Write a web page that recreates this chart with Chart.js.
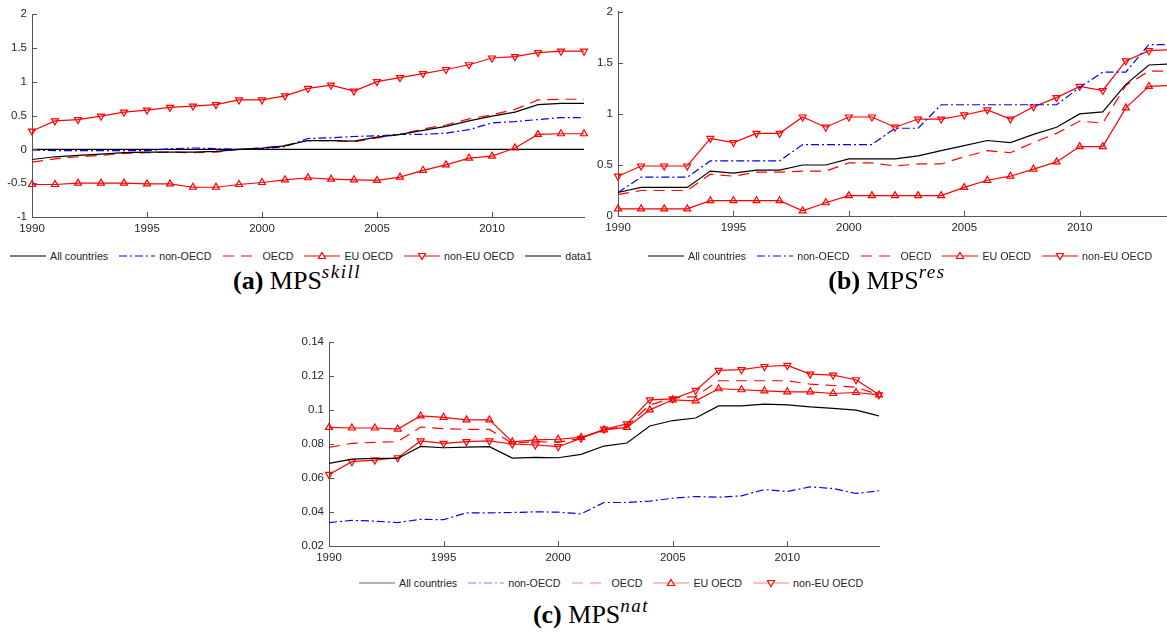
<!DOCTYPE html>
<html>
<head>
<meta charset="utf-8">
<script src="https://cdn.jsdelivr.net/npm/chart.js@4.4.1/dist/chart.umd.min.js"></script>
<style>
  html, body { margin: 0; padding: 0; background: #fff; }
  body { width: 1167px; height: 633px; position: relative; overflow: hidden; font-family: "Liberation Sans", Arial, sans-serif; }
  .panel { position: absolute; }
  .legend { position: absolute; display: flex; align-items: center; font-size: 10.7px; color: #262626; white-space: nowrap; height: 14px; }
  .legend svg { display: block; margin-right: 4px; }
  .legend span { margin-right: 11px; }
  .caption { position: absolute; width: 400px; text-align: center; font-family: "Liberation Serif", "Times New Roman", serif; font-size: 26px; line-height: 26px; color: #000; }
  .caption i { font-size: 19px; letter-spacing: 1.5px; position: relative; top: -11px; line-height: 0; }
</style>
</head>
<body>
<div class="panel" style="left:0;top:0;width:600px;height:240px"><canvas id="chartA"></canvas></div>
<div class="panel" style="left:585px;top:0;width:600px;height:240px"><canvas id="chartB"></canvas></div>
<div class="panel" style="left:280px;top:330px;width:620px;height:240px"><canvas id="chartC"></canvas></div>

<div class="legend" id="legendA" style="left:10px;top:249px"></div>
<div class="legend" id="legendB" style="left:648px;top:249px"></div>
<div class="legend" id="legendC" style="left:359px;top:576px"></div>

<div class="caption" style="left:97px;top:268px"><b>(a)</b> MPS<i>skill</i></div>
<div class="caption" style="left:687px;top:268px"><b>(b)</b> MPS<i>res</i></div>
<div class="caption" style="left:391px;top:602px"><b>(c)</b> MPS<i>nat</i></div>

<script>
// DATA
const years = [1990, 1991, 1992, 1993, 1994, 1995, 1996, 1997, 1998, 1999, 2000, 2001, 2002,
  2003, 2004, 2005, 2006, 2007, 2008, 2009, 2010, 2011, 2012, 2013, 2014];
const seriesNames = ["All countries", "non-OECD", "OECD", "EU OECD", "non-EU OECD"];
const xTicks = [1990, 1995, 2000, 2005, 2010];

// (a) MPS skill
const skillAll = [-0.15, -0.11, -0.09, -0.07, -0.05, -0.04, -0.04, -0.04, -0.03, 0.00, 0.02, 0.05, 0.13,
  0.13, 0.12, 0.18, 0.22, 0.28, 0.34, 0.42, 0.49, 0.55, 0.66, 0.68, 0.68];
const skillNonOecd = [-0.01, -0.02, -0.02, -0.02, -0.02, -0.02, 0.01, 0.02, 0.01, 0.00, 0.01, 0.04, 0.16,
  0.17, 0.19, 0.20, 0.22, 0.22, 0.24, 0.29, 0.39, 0.41, 0.44, 0.47, 0.47];
const skillOecd = [-0.19, -0.14, -0.11, -0.09, -0.06, -0.05, -0.04, -0.05, -0.04, 0.00, 0.02, 0.06, 0.13,
  0.13, 0.11, 0.17, 0.22, 0.30, 0.36, 0.45, 0.51, 0.59, 0.73, 0.74, 0.74];
const skillEu = [-0.52, -0.52, -0.50, -0.50, -0.50, -0.51, -0.51, -0.56, -0.56, -0.52, -0.49, -0.45, -0.42,
  -0.44, -0.45, -0.46, -0.41, -0.31, -0.23, -0.13, -0.10, 0.02, 0.22, 0.23, 0.23];
const skillNonEu = [0.27, 0.42, 0.44, 0.49, 0.55, 0.58, 0.62, 0.64, 0.66, 0.73, 0.73, 0.79, 0.90,
  0.95, 0.86, 1.00, 1.06, 1.12, 1.18, 1.25, 1.35, 1.37, 1.43, 1.45, 1.45];
const skillData1 = [0, 0, 0, 0, 0, 0, 0, 0, 0, 0, 0, 0, 0, 0, 0, 0, 0, 0, 0, 0, 0, 0, 0, 0, 0];
const skillTicks = [-1, 2, 0.5];

// (b) MPS res
const resAll = [0.23, 0.28, 0.28, 0.28, 0.44, 0.42, 0.45, 0.45, 0.50, 0.50, 0.56, 0.56, 0.56,
  0.59, 0.64, 0.69, 0.74, 0.72, 0.80, 0.87, 1.00, 1.02, 1.29, 1.48, 1.49];
const resNonOecd = [0.23, 0.38, 0.38, 0.38, 0.54, 0.54, 0.54, 0.54, 0.70, 0.70, 0.70, 0.70, 0.86,
  0.86, 1.09, 1.09, 1.09, 1.09, 1.09, 1.09, 1.26, 1.41, 1.41, 1.68, 1.68];
const resOecd = [0.21, 0.25, 0.25, 0.25, 0.41, 0.39, 0.43, 0.43, 0.44, 0.44, 0.52, 0.52, 0.49,
  0.51, 0.51, 0.58, 0.64, 0.62, 0.72, 0.81, 0.93, 0.91, 1.28, 1.42, 1.42];
const resEu = [0.07, 0.07, 0.07, 0.07, 0.15, 0.15, 0.15, 0.15, 0.05, 0.13, 0.20, 0.20, 0.20,
  0.20, 0.20, 0.28, 0.35, 0.39, 0.46, 0.53, 0.68, 0.68, 1.06, 1.27, 1.28];
const resNonEu = [0.39, 0.49, 0.49, 0.49, 0.76, 0.72, 0.81, 0.81, 0.97, 0.87, 0.97, 0.97, 0.87,
  0.95, 0.95, 0.99, 1.04, 0.95, 1.07, 1.16, 1.27, 1.23, 1.52, 1.62, 1.63];
const resTicks = [0, 2, 0.5];

// (c) MPS nat
const natAll = [0.0686, 0.0711, 0.0715, 0.0715, 0.0786, 0.0778, 0.0782, 0.0784, 0.0717, 0.0721, 0.0719, 0.0739, 0.0788,
  0.0806, 0.0906, 0.0938, 0.0953, 0.1024, 0.1024, 0.1034, 0.1030, 0.1018, 0.1010, 0.0999, 0.0965];
const natNonOecd = [0.0338, 0.0351, 0.0346, 0.0338, 0.0357, 0.0355, 0.0395, 0.0395, 0.0397, 0.0401, 0.0399, 0.0389, 0.0456,
  0.0456, 0.0464, 0.0481, 0.0491, 0.0487, 0.0495, 0.0532, 0.0521, 0.0548, 0.0538, 0.0509, 0.0525];
const natOecd = [0.0780, 0.0804, 0.0810, 0.0814, 0.0900, 0.0890, 0.0886, 0.0886, 0.0804, 0.0814, 0.0810, 0.0833, 0.0883,
  0.0906, 0.1030, 0.1070, 0.1079, 0.1172, 0.1172, 0.1172, 0.1172, 0.1152, 0.1144, 0.1134, 0.1089];
const natEu = [0.0898, 0.0894, 0.0894, 0.0888, 0.0965, 0.0957, 0.0942, 0.0942, 0.0812, 0.0824, 0.0828, 0.0839, 0.0883,
  0.0898, 0.1001, 0.1060, 0.1054, 0.1125, 0.1119, 0.1113, 0.1107, 0.1107, 0.1097, 0.1103, 0.1089];
const natNonEu = [0.0621, 0.0696, 0.0705, 0.0719, 0.0818, 0.0804, 0.0814, 0.0818, 0.0800, 0.0794, 0.0784, 0.0833, 0.0887,
  0.0918, 0.1060, 0.1066, 0.1115, 0.1233, 0.1237, 0.1256, 0.1262, 0.1211, 0.1205, 0.1178, 0.1089];
const natTicks = [0.02, 0.14, 0.02];

// STYLES
const lineStyles = {
  "All countries": { color: "#000000", dash: [], marker: null },
  "non-OECD": { color: "#0000ff", dash: [8, 3, 2, 3], marker: null },
  "OECD": { color: "#ff0000", dash: [11, 7], marker: null },
  "EU OECD": { color: "#ff0000", dash: [], marker: "up" },
  "non-EU OECD": { color: "#ff0000", dash: [], marker: "down" },
  "data1": { color: "#000000", dash: [], marker: null }
};
const axisColor = "#555555";
const textColor = "#262626";

function makeDataset(name, values) {
  const s = lineStyles[name];
  return {
    label: name,
    data: years.map((x, i) => ({ x: x, y: values[i] })),
    borderColor: s.color,
    borderWidth: 1.2,
    borderDash: s.dash,
    pointStyle: "triangle",
    pointRadius: s.marker ? 4 : 0,
    pointRotation: s.marker === "down" ? 180 : 0,
    pointBorderColor: s.color,
    pointBackgroundColor: "rgba(255,255,255,0)",
    pointBorderWidth: 1.2,
    tension: 0,
    clip: false
  };
}

// inward tick marks, like the original
const innerTicks = {
  id: "innerTicks",
  afterDraw(chart) {
    const { ctx, chartArea: a, scales: { x, y } } = chart;
    ctx.save();
    ctx.strokeStyle = axisColor;
    ctx.lineWidth = 1;
    ctx.beginPath();
    x.ticks.forEach(t => {
      const px = Math.round(x.getPixelForValue(t.value)) + 0.5;
      ctx.moveTo(px, a.bottom);
      ctx.lineTo(px, a.bottom - 5);
    });
    y.ticks.forEach(t => {
      const py = Math.round(y.getPixelForValue(t.value)) + 0.5;
      ctx.moveTo(a.left, py);
      ctx.lineTo(a.left + 5, py);
    });
    ctx.stroke();
    ctx.restore();
  }
};

function makeChart(id, datasets, yTicks, box) {
  return new Chart(document.getElementById(id), {
    type: "line",
    data: { datasets: datasets },
    options: {
      responsive: true,
      maintainAspectRatio: false,
      animation: false,
      layout: { padding: { left: 0, top: box.top, right: box.right, bottom: 0 } },
      plugins: { legend: { display: false }, tooltip: { enabled: false } },
      scales: {
        x: {
          type: "linear",
          min: years[0],
          max: years[years.length - 1],
          afterFit: s => { s.height = box.xHeight; },
          afterBuildTicks: s => { s.ticks = xTicks.map(v => ({ value: v })); },
          grid: { display: false, drawTicks: false },
          border: { display: true, color: axisColor, width: 1 },
          ticks: { padding: 5, color: textColor, font: { family: "Liberation Sans", size: 11.5 }, callback: v => String(v), maxRotation: 0 }
        },
        y: {
          type: "linear",
          min: yTicks[0],
          max: yTicks[1],
          afterFit: s => { s.width = box.yWidth; },
          grid: { display: false, drawTicks: false },
          border: { display: true, color: axisColor, width: 1 },
          ticks: { stepSize: yTicks[2], padding: 5, color: textColor, font: { family: "Liberation Sans", size: 11.5 }, callback: v => String(+(+v).toFixed(2)) }
        }
      }
    },
    plugins: [innerTicks]
  });
}

const chartA = makeChart("chartA", [
  makeDataset("All countries", skillAll),
  makeDataset("non-OECD", skillNonOecd),
  makeDataset("OECD", skillOecd),
  makeDataset("EU OECD", skillEu),
  makeDataset("non-EU OECD", skillNonEu),
  makeDataset("data1", skillData1)
], skillTicks, { top: 14, right: 16, xHeight: 23, yWidth: 32 });

const chartB = makeChart("chartB", [
  makeDataset("All countries", resAll),
  makeDataset("non-OECD", resNonOecd),
  makeDataset("OECD", resOecd),
  makeDataset("EU OECD", resEu),
  makeDataset("non-EU OECD", resNonEu)
], resTicks, { top: 11, right: 13, xHeight: 24, yWidth: 33 });

const chartC = makeChart("chartC", [
  makeDataset("All countries", natAll),
  makeDataset("non-OECD", natNonOecd),
  makeDataset("OECD", natOecd),
  makeDataset("EU OECD", natEu),
  makeDataset("non-EU OECD", natNonEu)
], natTicks, { top: 12, right: 21, xHeight: 24, yWidth: 49 });

// LEGENDS
const faded = { "#000000": "#666666", "#0000ff": "#8080ff", "#ff0000": "#ff8080" };

function buildLegend(id, names, fadeLines) {
  const box = document.getElementById(id);
  names.forEach(name => {
    const s = lineStyles[name];
    const lineColor = fadeLines ? faded[s.color] : s.color;
    let mark = "";
    if (s.marker === "up") mark = '<polygon points="18,2.5 21.5,8.5 14.5,8.5" fill="#fff" stroke="#ff0000" stroke-width="1.2"/>';
    if (s.marker === "down") mark = '<polygon points="18,9.5 21.5,3.5 14.5,3.5" fill="#fff" stroke="#ff0000" stroke-width="1.2"/>';
    box.insertAdjacentHTML("beforeend",
      '<svg width="36" height="12"><line x1="0" y1="6" x2="36" y2="6" stroke="' + lineColor +
      '" stroke-width="1.2" stroke-dasharray="' + (s.dash.length ? s.dash.join(" ") : "none") + '"/>' + mark +
      '</svg><span>' + name + '</span>');
  });
}

buildLegend("legendA", seriesNames.concat(["data1"]), false);
buildLegend("legendB", seriesNames, false);
buildLegend("legendC", seriesNames, true);
</script>
</body>
</html>
